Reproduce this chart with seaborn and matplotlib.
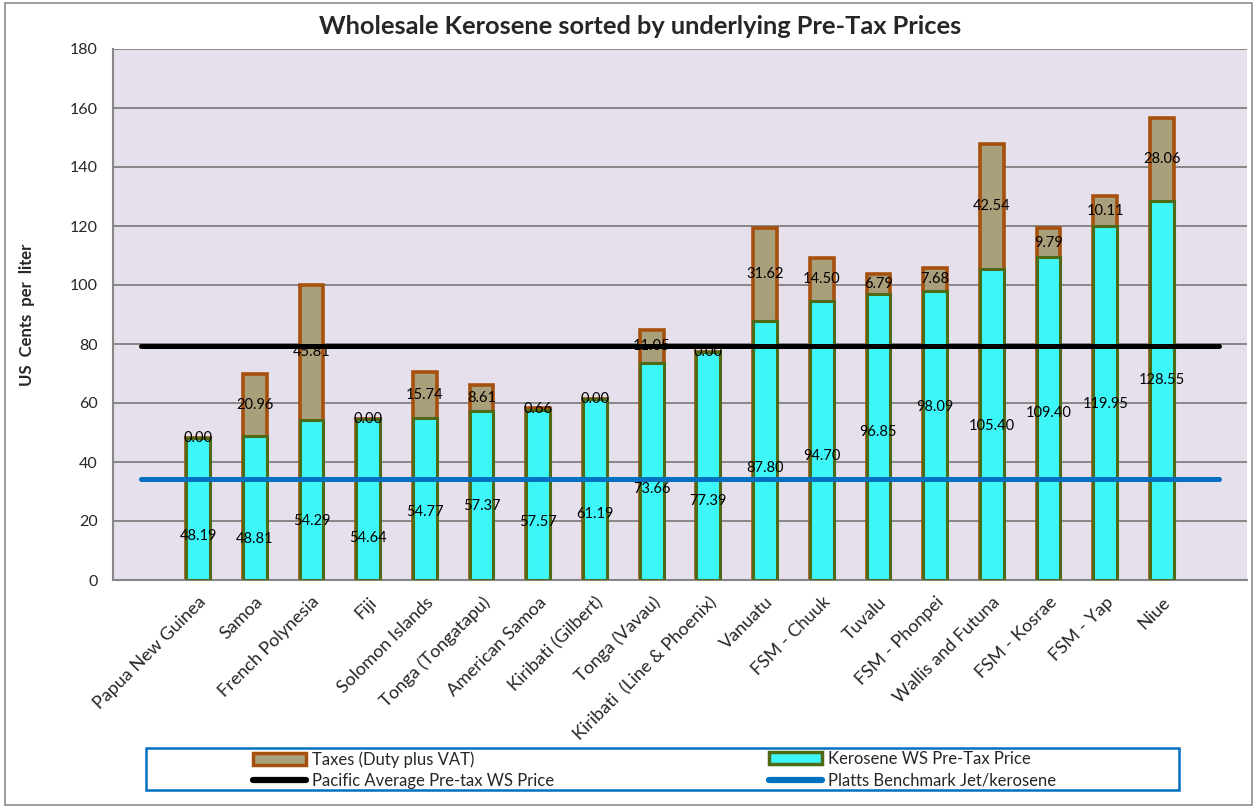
import numpy as np
import pandas as pd
import matplotlib
matplotlib.use("Agg")
import matplotlib.pyplot as plt
import seaborn as sns
from matplotlib.patches import Patch, Rectangle
from matplotlib.lines import Line2D

# ---------------- data ----------------
countries = ["Papua New Guinea", "Samoa", "French Polynesia", "Fiji", "Solomon Islands",
             "Tonga (Tongatapu)", "American Samoa", "Kiribati (Gilbert)", "Tonga (Vavau)",
             "Kiribati  (Line & Phoenix)", "Vanuatu", "FSM - Chuuk", "Tuvalu", "FSM - Phonpei",
             "Wallis and Futuna", "FSM - Kosrae", "FSM - Yap", "Niue"]
pretax = [48.19, 48.81, 54.29, 54.64, 54.77, 57.37, 57.57, 61.19, 73.66, 77.39,
          87.80, 94.70, 96.85, 98.09, 105.40, 109.40, 119.95, 128.55]
taxes = [0.00, 20.96, 45.81, 0.00, 15.74, 8.61, 0.66, 0.00, 11.05, 0.00,
         31.62, 14.50, 6.79, 7.68, 42.54, 9.79, 10.11, 28.06]
pacific_avg = 79.4
platts = 34.2
# heights at which the pre-tax value labels sit in the original chart
pretax_label_y = [14.9, 13.9, 20.0, 14.2, 23.0, 25.0, 19.6, 22.3, 30.8, 26.7,
                  37.9, 41.9, 50.1, 58.5, 52.1, 56.5, 59.5, 67.7]
yticks = list(range(0, 181, 20))

# ---------------- style ----------------
sns.set_theme(style="white")
plt.rcParams['font.family'] = ['Lato', 'DejaVu Sans']

BG = '#E5E0EC'
GRID = '#878787'
CYAN = '#3DF6F8'
CYAN_EDGE = '#4F6A16'
TAX = '#A99F7B'
TAX_EDGE = '#A5500C'
BLUE = '#0070C0'

W, H = 1254, 807
fig = plt.figure(figsize=(W / 100, H / 100), dpi=100)
fig.patch.set_facecolor('white')
ax = fig.add_axes([113 / W, 1 - 580 / H, (1247 - 113) / W, (580 - 49) / H])
ax.set_facecolor(BG)

df = pd.DataFrame({"country": countries, "pretax": pretax, "taxes": taxes})
df["total"] = df["pretax"] + df["taxes"]

bar_w = 0.42
sns.barplot(data=df, x="country", y="total", order=countries, color=TAX, saturation=1,
            edgecolor=TAX_EDGE, linewidth=2.6, width=bar_w, ax=ax, zorder=2)
sns.barplot(data=df, x="country", y="pretax", order=countries, color=CYAN, saturation=1,
            edgecolor=CYAN_EDGE, linewidth=2.2, width=bar_w, ax=ax, zorder=3)

n = len(countries)
xline = np.arange(-1, n + 1)
ax.plot(xline, [pacific_avg] * len(xline), color='black', lw=3.6, zorder=4,
        solid_capstyle='round')
ax.plot(xline, [platts] * len(xline), color=BLUE, lw=3.6, zorder=4,
        solid_capstyle='round')

# data labels
for i in range(n):
    ax.text(i, pretax[i] + taxes[i] / 2, f"{taxes[i]:.2f}", ha='center', va='center',
            fontsize=10.5, color='black', zorder=5)
    ax.text(i, pretax_label_y[i], f"{pretax[i]:.2f}", ha='center', va='center',
            fontsize=10.5, color='black', zorder=5)

ax.set_xlim(-1.5, n + 0.5)
ax.set_ylim(0, 180)
ax.set_yticks(yticks)
ax.set_yticklabels([str(t) for t in yticks], fontsize=11.5)
ax.yaxis.grid(True, color=GRID, lw=1.4)
ax.set_axisbelow(True)
ax.set_xlabel("")
ax.set_ylabel("US  Cents  per  liter", fontsize=12, fontweight='bold', labelpad=25)

ax.set_xticks(range(n))
ax.set_xticklabels(countries, rotation=45, ha='right', va='top', rotation_mode='anchor',
                   fontsize=13)
ax.set_xticks(np.arange(-1.5, n + 0.6, 1), minor=True)
ax.tick_params(axis='x', which='major', length=0, pad=10)
ax.tick_params(axis='x', which='minor', length=6, color=GRID, width=1.3, direction='out')
ax.tick_params(axis='y', length=5, color=GRID, width=1.3, direction='out', pad=6)

for s in ['top', 'right']:
    ax.spines[s].set_visible(False)
for s in ['left', 'bottom']:
    ax.spines[s].set_color(GRID)
    ax.spines[s].set_linewidth(1.5)

fig.text(640 / W, 1 - 26 / H, "Wholesale Kerosene sorted by underlying Pre-Tax Prices",
         fontsize=18.3, fontweight='bold', ha='center', va='center')

# outer chart border
fig.patches.append(Rectangle((5 / W, 2 / H), (1252 - 5) / W, (804 - 2) / H,
                             transform=fig.transFigure, fill=False,
                             edgecolor='#8C8C8C', lw=1.2))
# legend box
fig.patches.append(Rectangle((146 / W, 1 - 790 / H), (1179 - 146) / W, 42 / H,
                             transform=fig.transFigure, fill=False,
                             edgecolor=BLUE, lw=1.8))

h_tax = Patch(facecolor=TAX, edgecolor=TAX_EDGE, lw=2.5)
h_pre = Patch(facecolor=CYAN, edgecolor=CYAN_EDGE, lw=2.5)
h_avg = Line2D([], [], color='black', lw=4.5, solid_capstyle='round')
h_plt = Line2D([], [], color=BLUE, lw=4.5, solid_capstyle='round')

common = dict(frameon=False, borderpad=0, borderaxespad=0, handlelength=3.2,
              handleheight=0.75, handletextpad=0.35, labelspacing=0.35, fontsize=12,
              loc='upper left')
leg1 = fig.legend([h_tax, h_avg], ["Taxes (Duty plus VAT)", "Pacific Average Pre-tax WS Price"],
                  bbox_to_anchor=(253 / W, 1 - 751 / H), **common)
leg2 = fig.legend([h_pre, h_plt], ["Kerosene WS Pre-Tax Price", "Platts Benchmark Jet/kerosene"],
                  bbox_to_anchor=(769 / W, 1 - 751 / H), **common)

fig.savefig("out.png", dpi=100)
